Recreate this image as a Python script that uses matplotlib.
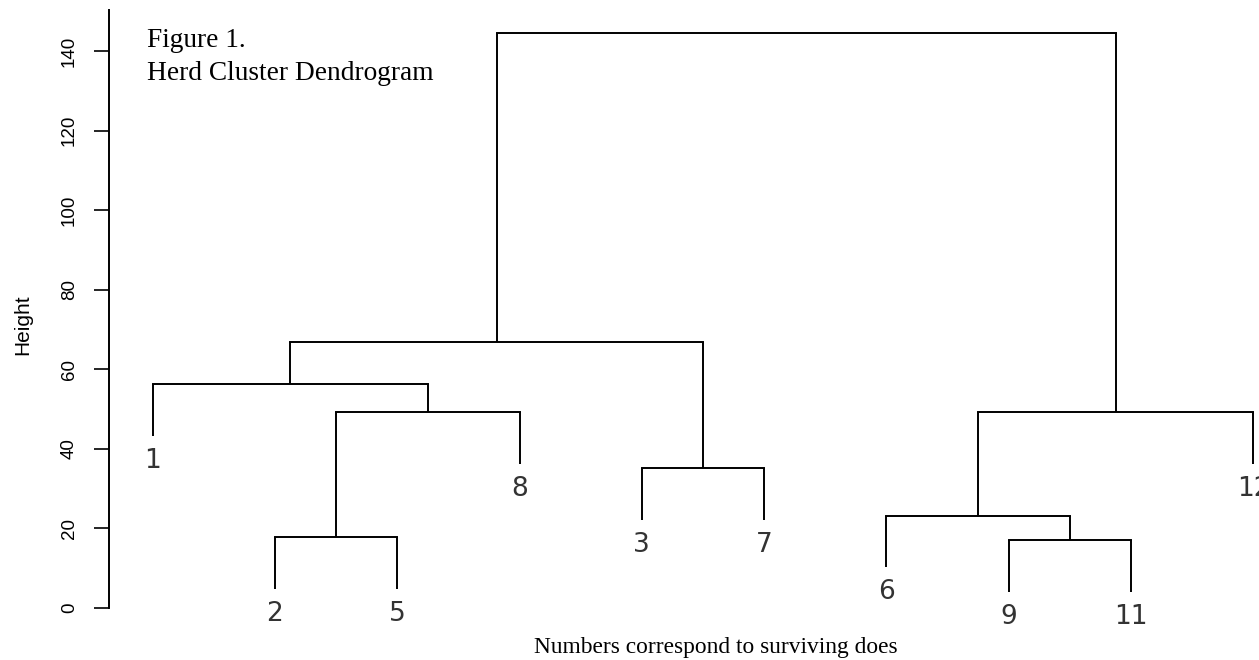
import numpy as np
import matplotlib
matplotlib.use('Agg')
import matplotlib.pyplot as plt

# leaf labels in dendrogram order (left to right)
leaf_labels = ['1', '2', '5', '8', '3', '7', '6', '9', '11', '12']

# merges: negative = leaf (1-based position in leaf_labels), positive = earlier merge (1-based)
merge_left = [-8, -2, -7, -5, 2, 3, -1, 7, 8]
merge_right = [-9, -3, 1, -6, -4, -10, 5, 4, 6]
merge_height = [17.0, 17.8, 23.2, 35.1, 49.2, 49.2, 56.3, 66.8, 144.4]

yticks = [0, 20, 40, 60, 80, 100, 120, 140]
hang = 13.0

W, H = 1259, 660
fig = plt.figure(figsize=(W / 100, H / 100), dpi=100)
ax = fig.add_axes([108.5 / W, 1 - 647.8 / H, 1189.0 / W, 637.8 / H])
ax.set_xlim(0.64, 10.36)
ax.set_ylim(-10, 150.3)

# x position of each merge
node_x = []
for a, b in zip(merge_left, merge_right):
    xa = -a if a < 0 else node_x[a - 1]
    xb = -b if b < 0 else node_x[b - 1]
    node_x.append((xa + xb) / 2)

lw = 1.4
for i, (a, b, h) in enumerate(zip(merge_left, merge_right, merge_height)):
    for c in (a, b):
        if c < 0:
            xc = -c
            yc = h - hang
            ax.text(xc, yc - 3.0, leaf_labels[xc - 1], ha='center', va='top',
                    fontsize=19, family='DejaVu Sans', color='#333333')
        else:
            xc = node_x[c - 1]
            yc = merge_height[c - 1]
        ax.plot([xc, xc], [yc, h], color='black', lw=lw, solid_capstyle='butt')
    xa = -a if a < 0 else node_x[a - 1]
    xb = -b if b < 0 else node_x[b - 1]
    ax.plot([xa, xb], [h, h], color='black', lw=lw, solid_capstyle='projecting')

for s in ['top', 'right', 'bottom']:
    ax.spines[s].set_visible(False)
ax.spines['left'].set_bounds(0, 150.3)
ax.spines['left'].set_linewidth(1.4)
ax.set_xticks([])
ax.set_yticks(yticks)
ax.set_yticklabels([str(t) for t in yticks], rotation=90, va='center',
                   family='Liberation Sans', fontsize=13.5)
ax.tick_params(axis='y', length=11, width=1.2, pad=11)

fig.text(23 / W, 1 - 325 / H, 'Height', rotation=90, ha='center', va='center',
         family='Liberation Sans', fontsize=15)
fig.text(147 / W, 1 - 47 / H, 'Figure 1.', ha='left', va='baseline',
         family='Liberation Serif', fontsize=19.7)
fig.text(147 / W, 1 - 80 / H, 'Herd Cluster Dendrogram', ha='left', va='baseline',
         family='Liberation Serif', fontsize=19.7)
fig.text(716 / W, 1 - 647 / H, 'Numbers correspond to surviving does', ha='center',
         va='center', family='Liberation Serif', fontsize=16.8)

fig.savefig('out.png', dpi=100)
